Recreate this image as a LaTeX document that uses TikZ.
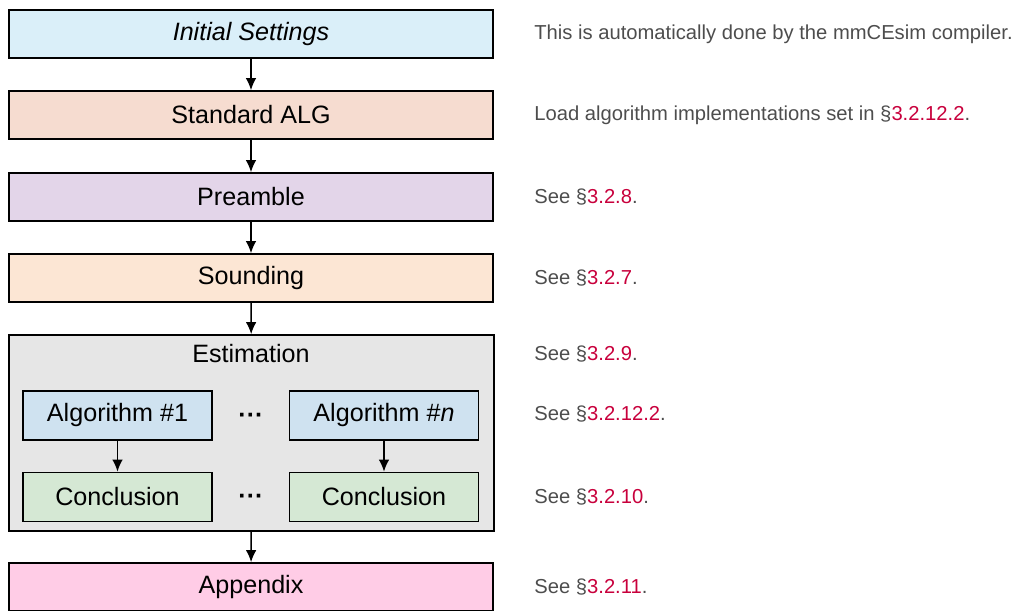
\documentclass[tikz,border=0pt]{standalone}
\usepackage{fontspec}
\setmainfont{Liberation Sans}
\usepackage{xcolor}
\usetikzlibrary{arrows.meta,positioning}

\definecolor{initfill}{HTML}{DAEFF9}
\definecolor{algfill}{HTML}{F6DCD0}
\definecolor{prefill}{HTML}{E3D5E9}
\definecolor{soundfill}{HTML}{FCE6D4}
\definecolor{estfill}{HTML}{E6E6E6}
\definecolor{algofill}{HTML}{CFE2F0}
\definecolor{concfill}{HTML}{D5E8D4}
\definecolor{appfill}{HTML}{FFCCE6}
\definecolor{notegray}{HTML}{4D4D4D}
\definecolor{secred}{HTML}{C8003C}

\newcommand{\secref}[1]{\S\textcolor{secred}{#1}}

\begin{document}
\begin{tikzpicture}[
  x=0.02cm,y=-0.02cm,
  stage/.style={draw=black,line width=0.9pt,align=center,inner sep=2pt,minimum width=9.68cm,minimum height=0.96cm,font=\fontsize{14.3}{17}\selectfont},
  inner/.style={draw=black,line width=0.9pt,align=center,inner sep=2pt,minimum width=3.78cm,minimum height=0.98cm,font=\fontsize{14.3}{17}\selectfont},
  note/.style={anchor=west,inner sep=0pt,text=notegray,font=\fontsize{11.5}{14}\selectfont},
  arrow/.style={-{Latex[length=2.4mm,width=2.1mm]},line width=0.9pt,draw=black}
]
\useasboundingbox (0,0) rectangle (1018,611);

\node[stage,fill=initfill] (init) at (251,34) {\itshape Initial Settings};
\node[stage,fill=algfill] (std) at (251,115) {Standard ALG};
\node[stage,fill=prefill] (pre) at (251,197) {Preamble};
\node[stage,fill=soundfill] (sound) at (251,278) {Sounding};
\node[draw=black,line width=0.9pt,fill=estfill,minimum width=9.7cm,minimum height=3.92cm] (est) at (251.5,433) {};
\node[font=\fontsize{14.3}{17}\selectfont] (esttitle) at (251,354) {Estimation};
\node[inner,fill=algofill] (alg1) at (117.5,415.5) {Algorithm \#1};
\node[inner,fill=algofill] (algn) at (384,415.5) {Algorithm \#\textit{n}};
\node[inner,fill=concfill] (conc1) at (117.5,497) {Conclusion};
\node[inner,fill=concfill] (concn) at (384,497) {Conclusion};
\node[font=\fontsize{14.3}{17}\bfseries] (dots1) at (251,418) {···};
\node[font=\fontsize{14.3}{17}\bfseries] (dots2) at (251,499) {···};
\node[stage,fill=appfill] (app) at (251,587) {Appendix};

\draw[arrow] (init) -- (std);
\draw[arrow] (std) -- (pre);
\draw[arrow] (pre) -- (sound);
\draw[arrow] (sound) -- (est);
\draw[arrow] (alg1) -- (conc1);
\draw[arrow] (algn) -- (concn);
\draw[arrow] (est) -- (app);

% notes on the right
\node[note] (n1) at (534,34) {This is automatically done by the mmCEsim compiler.};
\node[note] (n2) at (534,115) {Load algorithm implementations set in \secref{3.2.12.2}.};
\node[note] (n3) at (534,197) {See \secref{3.2.8}.};
\node[note] (n4) at (534,278) {See \secref{3.2.7}.};
\node[note] (n5) at (534,354) {See \secref{3.2.9}.};
\node[note] (n6) at (534,414) {See \secref{3.2.12.2}.};
\node[note] (n7) at (534,497) {See \secref{3.2.10}.};
\node[note] (n8) at (534,587) {See \secref{3.2.11}.};
\end{tikzpicture}
\end{document}
